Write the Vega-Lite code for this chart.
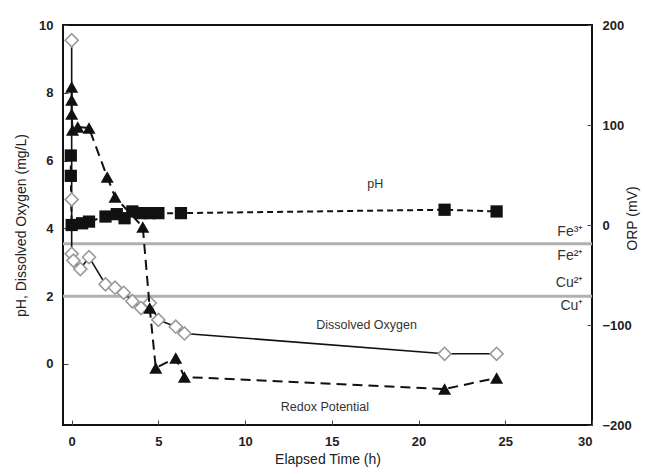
{
  "$schema": "https://vega.github.io/schema/vega-lite/v6.json",
  "width": 529,
  "height": 400,
  "autosize": {"type": "none"},
  "padding": {"left": 63, "top": 25, "right": 53, "bottom": 49},
  "background": "white",
  "config": {
    "font": "Liberation Sans",
    "view": {"stroke": "#111", "strokeWidth": 2},
    "axis": {
      "grid": false,
      "domain": false,
      "tickColor": "#444",
      "tickSize": -5,
      "labelPadding": 15,
      "labelFont": "Liberation Sans",
      "labelFontWeight": "bold",
      "labelFontSize": 13,
      "labelColor": "#222",
      "titleFont": "Liberation Sans",
      "titleFontWeight": "normal",
      "titleFontSize": 14,
      "titleColor": "#222"
    }
  },
  "datasets": {
    "ph": [
      {"i": 1, "t": -0.05, "v": 6.15},
      {"i": 2, "t": -0.05, "v": 5.55},
      {"i": 3, "t": 0.0, "v": 4.1},
      {"i": 4, "t": 0.6, "v": 4.15},
      {"i": 5, "t": 1.0, "v": 4.2},
      {"i": 6, "t": 1.95, "v": 4.35},
      {"i": 7, "t": 2.6, "v": 4.42},
      {"i": 8, "t": 3.05, "v": 4.3},
      {"i": 9, "t": 3.5, "v": 4.5},
      {"i": 10, "t": 4.0, "v": 4.45},
      {"i": 11, "t": 4.5, "v": 4.45},
      {"i": 12, "t": 5.0, "v": 4.45},
      {"i": 13, "t": 6.3, "v": 4.45},
      {"i": 14, "t": 21.5, "v": 4.55},
      {"i": 15, "t": 24.5, "v": 4.5}
    ],
    "do": [
      {"i": 1, "t": 0.0, "v": 9.55},
      {"i": 2, "t": 0.0, "v": 4.85},
      {"i": 3, "t": 0.0, "v": 3.25},
      {"i": 4, "t": 0.1, "v": 3.05},
      {"i": 5, "t": 0.5, "v": 2.8},
      {"i": 6, "t": 1.0, "v": 3.15},
      {"i": 7, "t": 1.95, "v": 2.35},
      {"i": 8, "t": 2.5, "v": 2.25},
      {"i": 9, "t": 3.0, "v": 2.1},
      {"i": 10, "t": 3.5, "v": 1.85},
      {"i": 11, "t": 4.0, "v": 1.65},
      {"i": 12, "t": 4.5, "v": 1.8},
      {"i": 13, "t": 5.0, "v": 1.3},
      {"i": 14, "t": 6.0, "v": 1.1},
      {"i": 15, "t": 6.5, "v": 0.9},
      {"i": 16, "t": 21.5, "v": 0.3},
      {"i": 17, "t": 24.5, "v": 0.3}
    ],
    "orp": [
      {"i": 1, "t": 0.0, "mv": 138},
      {"i": 2, "t": 0.0, "mv": 125},
      {"i": 3, "t": 0.0, "mv": 111},
      {"i": 4, "t": 0.05, "mv": 95},
      {"i": 5, "t": 0.35, "mv": 98},
      {"i": 6, "t": 1.0, "mv": 97},
      {"i": 7, "t": 2.05, "mv": 48},
      {"i": 8, "t": 2.5, "mv": 28},
      {"i": 9, "t": 4.1, "mv": -2},
      {"i": 10, "t": 4.5, "mv": -83},
      {"i": 11, "t": 4.85, "mv": -143},
      {"i": 12, "t": 6.0, "mv": -133},
      {"i": 13, "t": 6.5, "mv": -152},
      {"i": 14, "t": 21.5, "mv": -164},
      {"i": 15, "t": 24.5, "mv": -153}
    ],
    "refs": [
      {"v": 3.55},
      {"v": 2.0}
    ],
    "labels": [
      {"t": 17.5, "v": 5.3, "text": "pH"},
      {"t": 17.0, "v": 1.15, "text": "Dissolved Oxygen"},
      {"t": 14.6, "v": -1.27, "text": "Redox Potential"}
    ],
    "ions": [
      {"t": 29.5, "v": 3.88, "text": "Fe³⁺"},
      {"t": 29.5, "v": 3.18, "text": "Fe²⁺"},
      {"t": 29.5, "v": 2.38, "text": "Cu²⁺"},
      {"t": 29.5, "v": 1.72, "text": "Cu⁺"}
    ]
  },
  "layer": [
    {
      "layer": [
        {
          "data": {"name": "refs"},
          "mark": {"type": "rule", "color": "#b0b0b0", "strokeWidth": 3},
          "encoding": {}
        },
        {
          "data": {"name": "do"},
          "mark": {"type": "line", "color": "#111", "strokeWidth": 1.6},
          "encoding": {
            "x": {
              "field": "t",
              "type": "quantitative",
              "scale": {"domain": [-0.5, 30], "nice": false, "zero": false},
              "axis": {"title": "Elapsed Time (h)", "values": [0, 5, 10, 15, 20, 25, 30], "titlePadding": 4}
            },
            "order": {"field": "i"}
          }
        },
        {
          "data": {"name": "ph"},
          "mark": {"type": "line", "color": "#111", "strokeWidth": 2, "strokeDash": [6, 4]},
          "encoding": {
            "x": {"field": "t", "type": "quantitative"},
            "order": {"field": "i"}
          }
        },
        {
          "data": {"name": "do"},
          "mark": {"type": "point", "shape": "diamond", "size": 170, "filled": false, "fill": "white", "fillOpacity": 1, "stroke": "#999", "strokeWidth": 1.6, "opacity": 1},
          "encoding": {
            "x": {"field": "t", "type": "quantitative"}
          }
        },
        {
          "data": {"name": "ph"},
          "mark": {"type": "point", "shape": "square", "size": 150, "filled": true, "color": "#111", "opacity": 1},
          "encoding": {
            "x": {"field": "t", "type": "quantitative"}
          }
        },
        {
          "data": {"name": "labels"},
          "mark": {"type": "text", "font": "Liberation Sans", "fontSize": 12.5, "color": "#333", "align": "center", "baseline": "middle"},
          "encoding": {
            "x": {"field": "t", "type": "quantitative"},
            "text": {"field": "text"}
          }
        },
        {
          "data": {"name": "ions"},
          "mark": {"type": "text", "font": "Liberation Sans", "fontSize": 14, "color": "#333", "align": "right", "baseline": "middle"},
          "encoding": {
            "x": {"field": "t", "type": "quantitative"},
            "text": {"field": "text"}
          }
        }
      ],
      "encoding": {
        "y": {
          "field": "v",
          "type": "quantitative",
          "scale": {"domain": [-1.8, 10], "nice": false, "zero": false},
          "axis": {"title": "pH, Dissolved Oxygen (mg/L)", "values": [0, 2, 4, 6, 8, 10], "titlePadding": 10}
        }
      }
    },
    {
      "data": {"name": "orp"},
      "layer": [
        {
          "mark": {"type": "line", "color": "#111", "strokeWidth": 2, "strokeDash": [10, 6]},
          "encoding": {
            "order": {"field": "i"}
          }
        },
        {
          "mark": {"type": "point", "shape": "triangle-up", "size": 170, "filled": true, "color": "#111", "opacity": 1},
          "encoding": {}
        }
      ],
      "encoding": {
        "x": {"field": "t", "type": "quantitative", "scale": {"domain": [-0.5, 30], "nice": false, "zero": false}},
        "y": {
          "field": "mv",
          "type": "quantitative",
          "scale": {"domain": [-200, 200], "nice": false},
          "axis": {"orient": "right", "title": "ORP (mV)", "values": [-200, -100, 0, 100, 200], "titleX": 40, "titleY": 193, "titleAngle": -90, "titleAlign": "center", "titleBaseline": "middle"}
        }
      }
    }
  ],
  "resolve": {"scale": {"y": "independent"}}
}
